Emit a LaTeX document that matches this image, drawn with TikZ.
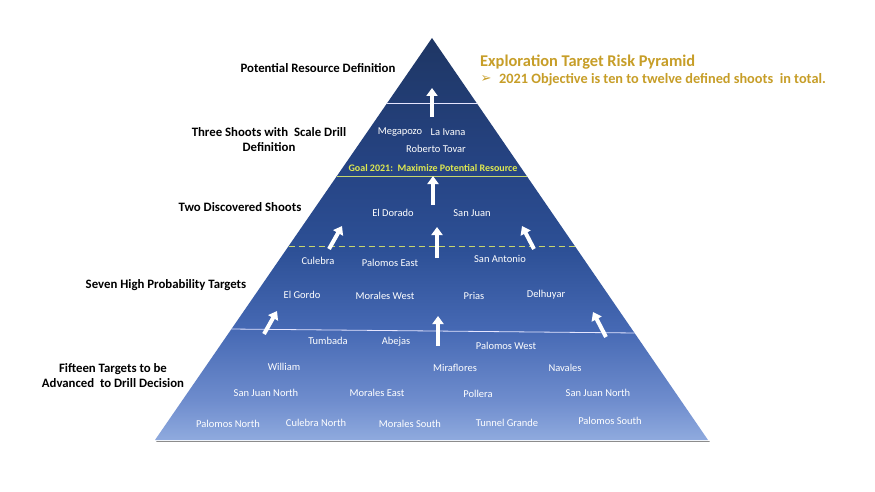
\documentclass[tikz,border=0pt]{standalone}
\usepackage{fontspec}
\setmainfont{Carlito}
\newfontfamily\dejavu{DejaVu Sans}
\usetikzlibrary{arrows.meta,calc}
\definecolor{pyrtop}{RGB}{30,54,100}
\definecolor{pyrc1}{RGB}{38,68,132}
\definecolor{pyrc2}{RGB}{45,80,150}
\definecolor{pyrc3}{RGB}{70,105,180}
\definecolor{pyrc4}{RGB}{110,140,205}
\definecolor{pyrbot}{RGB}{143,170,222}
\definecolor{gold}{RGB}{199,158,40}
\definecolor{goalyel}{RGB}{222,232,80}
\definecolor{goalline}{RGB}{200,215,110}
\pgfdeclareverticalshading{pyrshade}{100bp}{color(0bp)=(pyrbot); color(25bp)=(pyrbot); color(30bp)=(pyrc4); color(38.7bp)=(pyrc3); color(48.6bp)=(pyrc2); color(58.6bp)=(pyrc1); color(75bp)=(pyrtop); color(100bp)=(pyrtop)}
\begin{document}
\begin{tikzpicture}[x=1pt,y=-1pt,
  tgt/.style={text=white, font=\fontsize{10.5}{12}\selectfont, inner sep=0pt},
  lvl/.style={text=black, font=\fontsize{12.8}{15}\selectfont\bfseries, align=center, inner sep=0pt},
  uparrow/.style={draw=white, line width=4pt, -{Triangle[width=11pt,length=8pt]}},
  sep/.style={draw=white!90!blue, line width=0.8pt}
]
\useasboundingbox (0,0) rectangle (875,492);
\fill[white] (0,0) rectangle (875,492);
% pyramid
\coordinate (apex) at (432,38);
\coordinate (bl) at (155,440);
\coordinate (br) at (708,440);
\draw[black!45, line width=1.8pt, line cap=round] (157,441.5) -- (709,441.5);
\shade[shading=pyrshade] (apex) -- (bl) -- (br) -- cycle;
% separator lines
\draw[sep] ($(apex)!0.1617!(bl)$) -- ($(apex)!0.1617!(br)$);
\draw[goalline, line width=0.9pt] ($(apex)!0.3433!(bl)$) -- ($(apex)!0.3433!(br)$);
\draw[goalline, line width=0.9pt, dash pattern=on 6pt off 4pt] ($(apex)!0.5174!(bl)$) -- ($(apex)!0.5174!(br)$);
\draw[sep] ($(apex)!0.7239!(bl)$) -- ($(apex)!0.7338!(br)$);
% arrows
\coordinate (a1t) at (432,117); \coordinate (a1h) at (432,88);
\coordinate (a2t) at (433,205); \coordinate (a2h) at (433,176);
\coordinate (a3t) at (437,258); \coordinate (a3h) at (437,227);
\coordinate (a4t) at (329,249); \coordinate (a4h) at (342,226);
\coordinate (a5t) at (534,249); \coordinate (a5h) at (522,226);
\coordinate (a6t) at (264,334); \coordinate (a6h) at (277,311);
\coordinate (a7t) at (438,346); \coordinate (a7h) at (438,316);
\coordinate (a8t) at (606,337); \coordinate (a8h) at (593,312);
\foreach \i in {1,...,8} \draw[uparrow] (a\i t) -- (a\i h);
% level labels
\node[lvl] (l1) at (318,68) {Potential Resource Definition};
\node[lvl] (l2) at (269,140) {Three Shoots with\ \ Scale Drill\\Definition};
\node[lvl] (l3) at (240,207) {Two Discovered Shoots};
\node[lvl] (l4) at (166,285) {Seven High Probability Targets};
\node[lvl] (l5) at (113,376) {Fifteen Targets to be\\Advanced\ \ to Drill Decision};
% title
\node[text=gold, font=\fontsize{16.4}{18}\selectfont\bfseries, anchor=west, inner sep=0pt] (title) at (480,62) {Exploration Target Risk Pyramid};
\node[text=gold, font=\dejavu\fontsize{13}{14}\selectfont, inner sep=0pt] (bul) at (486,79) {➢};
\node[text=gold, font=\fontsize{14.3}{16}\selectfont\bfseries, anchor=west, inner sep=0pt] (obj) at (499,80) {2021 Objective is ten to twelve defined shoots\ \ in total.};
% goal
\node[text=goalyel, font=\fontsize{10}{11}\selectfont\bfseries, inner sep=0pt] (goal) at (433,168) {Goal 2021:\ \ Maximize Potential Resource};
% targets
\node[tgt] (t1) at (400,132) {Megapozo};
\node[tgt] (t2) at (448,132) {La Ivana};
\node[tgt] (t3) at (436,149) {Roberto\ Tovar};
\node[tgt] (t4) at (393,213) {El Dorado};
\node[tgt] (t5) at (472,213) {San Juan};
\node[tgt] (t6) at (318,261) {Culebra};
\node[tgt] (t7) at (390,263) {Palomos East};
\node[tgt] (t8) at (500,259) {San Antonio};
\node[tgt] (t9) at (302,295) {El Gordo};
\node[tgt] (t10) at (385,296) {Morales West};
\node[tgt] (t11) at (474,296) {Prias};
\node[tgt] (t12) at (546,295) {Delhuyar};
\node[tgt] (t13) at (328,341) {Tumbada};
\node[tgt] (t14) at (396,342) {Abejas};
\node[tgt] (t15) at (506,346) {Palomos West};
\node[tgt] (t16) at (284,367) {William};
\node[tgt] (t17) at (455,368) {Miraflores};
\node[tgt] (t18) at (565,368) {Navales};
\node[tgt] (t19) at (266,393) {San Juan North};
\node[tgt] (t20) at (377,393) {Morales East};
\node[tgt] (t21) at (478,394) {Pollera};
\node[tgt] (t22) at (598,393) {San Juan North};
\node[tgt] (t23) at (228,424) {Palomos North};
\node[tgt] (t24) at (316,423) {Culebra North};
\node[tgt] (t25) at (410,424) {Morales South};
\node[tgt] (t26) at (507,423) {Tunnel Grande};
\node[tgt] (t27) at (610,421) {Palomos South};
\end{tikzpicture}
\end{document}
